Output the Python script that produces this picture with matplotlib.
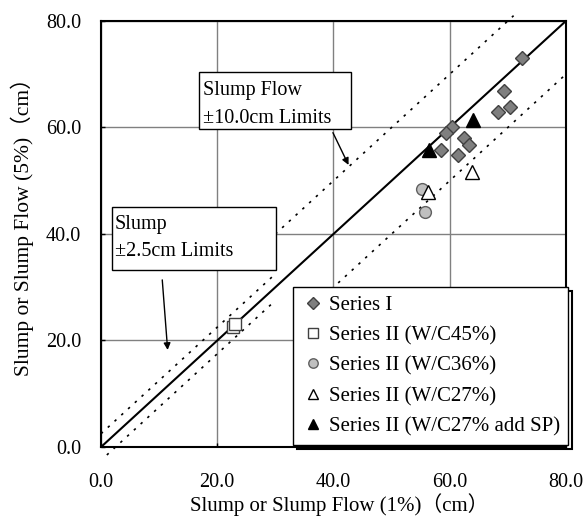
import numpy as np
import matplotlib
matplotlib.use('Agg')
import matplotlib.pyplot as plt
from matplotlib.patches import Rectangle
from matplotlib.transforms import IdentityTransform

plt.rcParams['font.family'] = ['Liberation Serif']
plt.rcParams['font.size'] = 14.5
CJK = ['Liberation Serif', 'Noto Sans CJK JP']

# data (1% vs 5%)
s1_x = [72.4, 69.4, 70.4, 68.3, 60.4, 59.3, 62.5, 63.4, 58.5, 61.4]
s1_y = [73.0, 66.9, 63.9, 63.0, 60.0, 58.9, 58.0, 56.8, 55.7, 54.8]
w45_x = [22.7, 23.1]
w45_y = [22.5, 23.1]
w36_x = [55.2, 55.8]
w36_y = [48.5, 44.1]
w27_x = [63.9, 56.3]
w27_y = [51.7, 47.8]
w27sp_x = [64.0, 56.5]
w27sp_y = [61.4, 55.7]

# limits
slump_lim = 2.5
flow_lim = 10.0
slump_up_x = np.array([0.0, 30.0])
slump_lo_x = np.array([1.0, 30.0])
flow_up_x = np.array([30.0, 71.0])
flow_lo_x = np.array([35.0, 80.0])
ticks = [0, 20, 40, 60, 80]

fig = plt.figure(figsize=(5.84, 5.17), dpi=100)
ax = fig.add_axes([0.173, 0.1354, 0.796, 0.824])

ax.plot([0, 80], [0, 80], color='k', lw=1.5, zorder=3)
dot = dict(color='k', lw=1.2, ls=(0, (1.5, 4)), clip_on=False, zorder=2)
ax.plot(slump_up_x, slump_up_x + slump_lim, **dot)
ax.plot(slump_lo_x, slump_lo_x - slump_lim, **dot)
ax.plot(flow_up_x, flow_up_x + flow_lim, **dot)
ax.plot(flow_lo_x, flow_lo_x - flow_lim, **dot)

# annotation boxes
ax.add_patch(Rectangle((16.9, 59.7), 26.1, 10.8, fc='white', ec='k', lw=1, zorder=4))
ax.text(17.55, 66.1, 'Slump Flow', va='baseline', ha='left', zorder=5)
ax.text(17.55, 60.8, '\u00b110.0cm Limits', va='baseline', ha='left', zorder=5)
ax.annotate('', xy=(42.8, 52.5), xytext=(39.7, 59.5),
            arrowprops=dict(arrowstyle='-|>', color='k', lw=1, mutation_scale=10), zorder=5)

ax.add_patch(Rectangle((1.85, 33.2), 28.25, 11.9, fc='white', ec='k', lw=1, zorder=4))
ax.text(2.4, 40.9, 'Slump', va='baseline', ha='left', zorder=5)
ax.text(2.4, 35.9, '\u00b12.5cm Limits', va='baseline', ha='left', zorder=5)
ax.annotate('', xy=(11.5, 17.7), xytext=(10.5, 31.9),
            arrowprops=dict(arrowstyle='-|>', color='k', lw=1, mutation_scale=10), zorder=5)

# points
ax.plot(s1_x, s1_y, 'D', ms=7.2, mfc='#7f7f7f', mec='#404040', mew=1, ls='none',
        label='Series I', zorder=6)
ax.plot(w45_x, w45_y, 's', ms=8.5, mfc='white', mec='#404040', mew=1, ls='none',
        label='Series II (W/C45%)', zorder=6)
ax.plot(w36_x, w36_y, 'o', ms=8.5, mfc='#c0c0c0', mec='#606060', mew=1, ls='none',
        label='Series II (W/C36%)', zorder=6)
ax.plot(w27_x, w27_y, '^', ms=9.5, mfc='white', mec='k', mew=1, ls='none',
        label='Series II (W/C27%)', zorder=6)
ax.plot(w27sp_x, w27sp_y, '^', ms=9.5, mfc='k', mec='k', mew=1, ls='none',
        label='Series II (W/C27% add SP)', zorder=6)

ax.set_xlim(0, 80)
ax.set_ylim(0, 80)
ax.set_xticks(ticks)
ax.set_yticks(ticks)
ax.set_xticklabels(['%.1f' % t for t in ticks])
ax.set_yticklabels(['%.1f' % t for t in ticks])
ax.tick_params(axis='x', direction='in', length=3, width=1, pad=18.5)
ax.tick_params(axis='y', direction='in', length=3, width=1, pad=14.4)
ax.grid(True, color='#808080', lw=1)
ax.set_axisbelow(True)
for sp in ax.spines.values():
    sp.set_linewidth(1.5)

ax.set_xlabel('Slump or Slump Flow (1%)\uff08cm\uff09', family=CJK, fontsize=15)
ax.xaxis.set_label_coords(0.512, -0.108)
ax.set_ylabel('Slump or Slump Flow (5%)\uff08cm\uff09', family=CJK, fontsize=15.5)
ax.yaxis.set_label_coords(-0.145, 0.53)

leg = ax.legend(loc='lower right', bbox_to_anchor=(1.005, 0.005), fancybox=False,
                edgecolor='k', framealpha=1, fontsize=15,
                handlelength=1.1, handletextpad=0.2, labelspacing=0.52,
                borderaxespad=0, markerscale=0.8, borderpad=0.4)
leg.get_frame().set_linewidth(1)
leg.set_zorder(10)

# thin offset shadow outline behind the legend
fig.canvas.draw()
bb = leg.get_window_extent()
ax.add_patch(Rectangle((bb.x0 + 4, bb.y0 - 4), bb.width, bb.height, transform=IdentityTransform(),
                       fc='none', ec='k', lw=1.5, clip_on=False, zorder=9))

fig.savefig('out.png', dpi=100)
